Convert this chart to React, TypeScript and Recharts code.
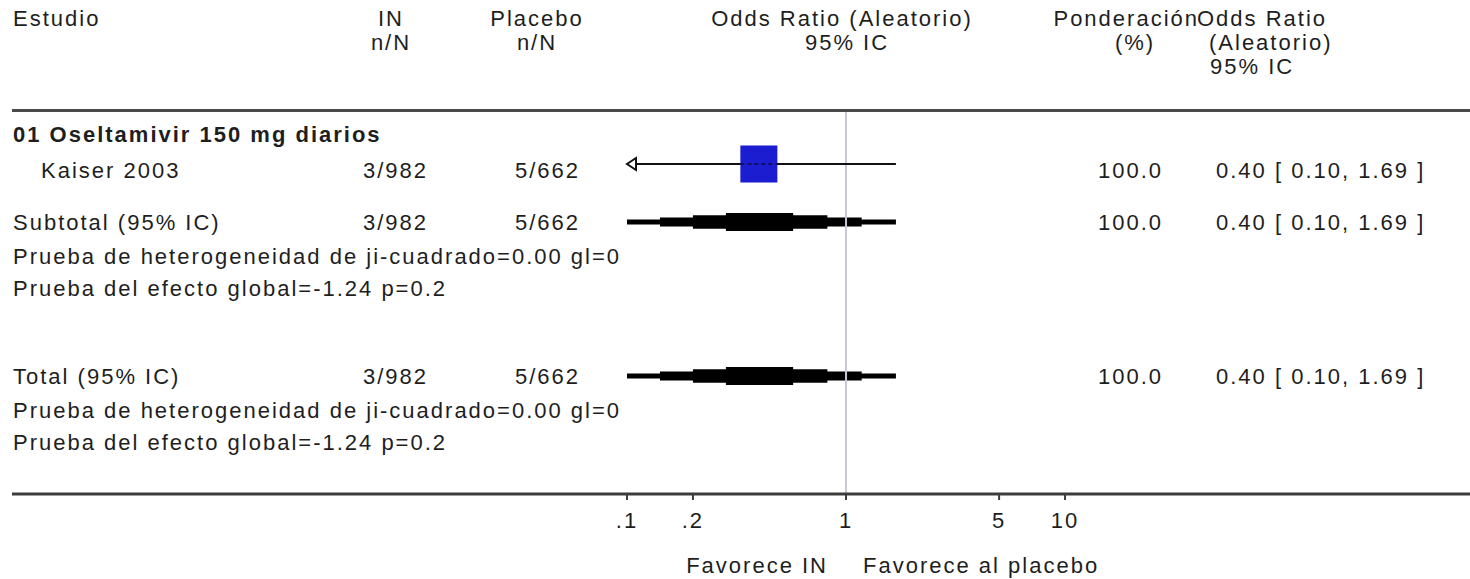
import { ComposedChart, XAxis, YAxis, Scatter, ReferenceLine, ReferenceArea, Customized } from 'recharts'

// study level data
const groupTitle = '01 Oseltamivir 150 mg diarios'
const studyNames = ['Kaiser 2003']
const studyInEvents = [3]
const studyInTotals = [982]
const studyPlaceboEvents = [5]
const studyPlaceboTotals = [662]
const studyOR = [0.4]
const studyLow = [0.1]
const studyHigh = [1.69]
const studyWeight = [100.0]

// pooled rows (subtotal, total)
const pooledNames = ['Subtotal (95% IC)', 'Total (95% IC)']
const pooledInEvents = [3, 3]
const pooledInTotals = [982, 982]
const pooledPlaceboEvents = [5, 5]
const pooledPlaceboTotals = [662, 662]
const pooledOR = [0.4, 0.4]
const pooledLow = [0.1, 0.1]
const pooledHigh = [1.69, 1.69]
const pooledWeight = [100.0, 100.0]
const hetChi2 = [0.0, 0.0]
const hetDf = [0, 0]
const effectZ = [-1.24, -1.24]
const effectP = [0.2, 0.2]

const ticks = [0.1, 0.2, 1, 5, 10]
const tickLabels = ['.1', '.2', '1', '5', '10']
const favourLabels = ['Favorece IN', 'Favorece al placebo']

// layout
const W = 1470
const H = 579
const FONT = '"Liberation Sans", Arial, sans-serif'
const FS = 22
const LS = 2
const INK = '#1e1e1e'
const X_MIN = Math.pow(10, -3.808)
const X_MAX = Math.pow(10, 2.849)
const ROW = { title: 134, studies: [164], pooled: [222, 376], het: [256, 410], effect: [288, 442] }
const COL = { name: 13, study: 41, inEnd: 428, plEnd: 580, wEnd: 1163, ci: 1216 }

const fmtCI = (or: number, lo: number, hi: number) => `${or.toFixed(2)} [ ${lo.toFixed(2)}, ${hi.toFixed(2)} ]`

function diamondBands(est: number, lo: number, hi: number) {
  const l = Math.log10(lo), e = Math.log10(est), h = Math.log10(hi)
  const heights = [5, 9, 13.5, 18]
  return heights.map((ht, k) => ({
    x1: Math.pow(10, l + (k / 4) * (e - l)),
    x2: Math.pow(10, h - (k / 4) * (h - e)),
    h: ht,
  }))
}

const boxData = studyOR.map((or, i) => ({ x: or, y: ROW.studies[i], w: studyWeight[i] }))
const arrowData = studyLow
  .map((lo, i) => ({ x: ticks[0], y: ROW.studies[i], show: lo <= ticks[0] }))
  .filter((d) => d.show)

function Box(props: any) {
  const { cx, cy, payload } = props
  const s = 37 * Math.sqrt(payload.w / 100)
  return (
    <g>
      <rect x={cx - s / 2} y={cy - s / 2} width={s} height={s} fill="#1c1cd0" />
      <line x1={cx - s / 2} x2={cx + s / 2} y1={cy} y2={cy} stroke="#101060" strokeWidth={2} strokeDasharray="4 3" />
    </g>
  )
}

function Arrow(props: any) {
  const { cx, cy } = props
  return (
    <path
      d={`M${cx + 9},${cy - 6} L${cx},${cy} L${cx + 9},${cy + 6} Z`}
      fill="#fff"
      stroke="#111"
      strokeWidth={2}
    />
  )
}

function T({ x, y, children, anchor = 'start', bold = false }: any) {
  return (
    <text x={x} y={y} textAnchor={anchor} fontFamily={FONT} fontSize={FS} fill={INK} fontWeight={bold ? 700 : 400} letterSpacing={LS}>
      {children}
    </text>
  )
}

function Labels() {
  const b = 8
  return (
    <g>
      <T x={13} y={26}>Estudio</T>
      <T x={391} y={26} anchor="middle">IN</T>
      <T x={391} y={50} anchor="middle">n/N</T>
      <T x={537} y={26} anchor="middle">Placebo</T>
      <T x={537} y={50} anchor="middle">n/N</T>
      <T x={842} y={26} anchor="middle">Odds Ratio (Aleatorio)</T>
      <T x={847} y={50} anchor="middle">95% IC</T>
      <T x={1199} y={26} anchor="end">Ponderación</T>
      <T x={1197} y={26}>Odds Ratio</T>
      <T x={1135} y={50} anchor="middle">(%)</T>
      <T x={1209} y={50}>(Aleatorio)</T>
      <T x={1210} y={74}>95% IC</T>

      <T x={COL.name} y={ROW.title + b} bold>{groupTitle}</T>
      {studyNames.map((n, i) => (
        <g key={n}>
          <T x={COL.study} y={ROW.studies[i] + b + 6}>{n}</T>
          <T x={COL.inEnd} y={ROW.studies[i] + b + 6} anchor="end">{`${studyInEvents[i]}/${studyInTotals[i]}`}</T>
          <T x={COL.plEnd} y={ROW.studies[i] + b + 6} anchor="end">{`${studyPlaceboEvents[i]}/${studyPlaceboTotals[i]}`}</T>
          <T x={COL.wEnd} y={ROW.studies[i] + b + 6} anchor="end">{studyWeight[i].toFixed(1)}</T>
          <T x={COL.ci} y={ROW.studies[i] + b + 6}>{fmtCI(studyOR[i], studyLow[i], studyHigh[i])}</T>
        </g>
      ))}
      {pooledNames.map((n, i) => (
        <g key={n}>
          <T x={COL.name} y={ROW.pooled[i] + b}>{n}</T>
          <T x={COL.inEnd} y={ROW.pooled[i] + b} anchor="end">{`${pooledInEvents[i]}/${pooledInTotals[i]}`}</T>
          <T x={COL.plEnd} y={ROW.pooled[i] + b} anchor="end">{`${pooledPlaceboEvents[i]}/${pooledPlaceboTotals[i]}`}</T>
          <T x={COL.wEnd} y={ROW.pooled[i] + b} anchor="end">{pooledWeight[i].toFixed(1)}</T>
          <T x={COL.ci} y={ROW.pooled[i] + b}>{fmtCI(pooledOR[i], pooledLow[i], pooledHigh[i])}</T>
          <T x={COL.name} y={ROW.het[i] + b}>{`Prueba de heterogeneidad de ji-cuadrado=${hetChi2[i].toFixed(2)} gl=${hetDf[i]}`}</T>
          <T x={COL.name} y={ROW.effect[i] + b}>{`Prueba del efecto global=${effectZ[i].toFixed(2)} p=${effectP[i]}`}</T>
        </g>
      ))}
      <T x={828} y={573} anchor="end">{favourLabels[0]}</T>
      <T x={863} y={573}>{favourLabels[1]}</T>
    </g>
  )
}

export default function App() {
  return (
    <div style={{ position: 'absolute', left: 0, top: 0, background: '#fff' }}>
      <ComposedChart width={W} height={H} margin={{ top: 0, right: 0, bottom: 0, left: 12 }}>
        <XAxis
          type="number"
          dataKey="x"
          scale="log"
          domain={[X_MIN, X_MAX]}
          allowDataOverflow
          ticks={ticks}
          interval={0}
          tickFormatter={(v: number) => tickLabels[ticks.indexOf(v)] ?? ''}
          height={85}
          axisLine={{ stroke: '#3c3c3c', strokeWidth: 3 }}
          tickLine={{ stroke: '#3c3c3c', strokeWidth: 2 }}
          tickSize={6}
          tickMargin={12}
          tick={{ fill: INK, fontSize: FS, fontFamily: FONT, letterSpacing: LS }}
        />
        <YAxis type="number" dataKey="y" hide width={0} domain={[0, 494]} reversed allowDataOverflow />

        <ReferenceLine y={110.5} stroke="#4a4a4a" strokeWidth={3} />
        <ReferenceLine segment={[{ x: 1, y: 112 }, { x: 1, y: 493 }]} stroke="#c9c9d6" strokeWidth={2} />

        {studyOR.map((_, i) => (
          <ReferenceLine
            key={`ci${i}`}
            segment={[
              { x: Math.max(studyLow[i], ticks[0]), y: ROW.studies[i] },
              { x: Math.min(studyHigh[i], ticks[ticks.length - 1]), y: ROW.studies[i] },
            ]}
            stroke="#111"
            strokeWidth={2}
          />
        ))}

        {pooledOR.map((or, i) =>
          diamondBands(or, pooledLow[i], pooledHigh[i]).map((bd, k) => (
            <ReferenceArea
              key={`d${i}-${k}`}
              x1={bd.x1}
              x2={bd.x2}
              y1={ROW.pooled[i] - bd.h / 2}
              y2={ROW.pooled[i] + bd.h / 2}
              fill="#000"
              fillOpacity={1}
              stroke="none"
              ifOverflow="visible"
            />
          ))
        )}

        <Scatter data={boxData} shape={Box} isAnimationActive={false} />
        <Scatter data={arrowData} shape={Arrow} isAnimationActive={false} />

        <Customized component={Labels} />
      </ComposedChart>
    </div>
  )
}
